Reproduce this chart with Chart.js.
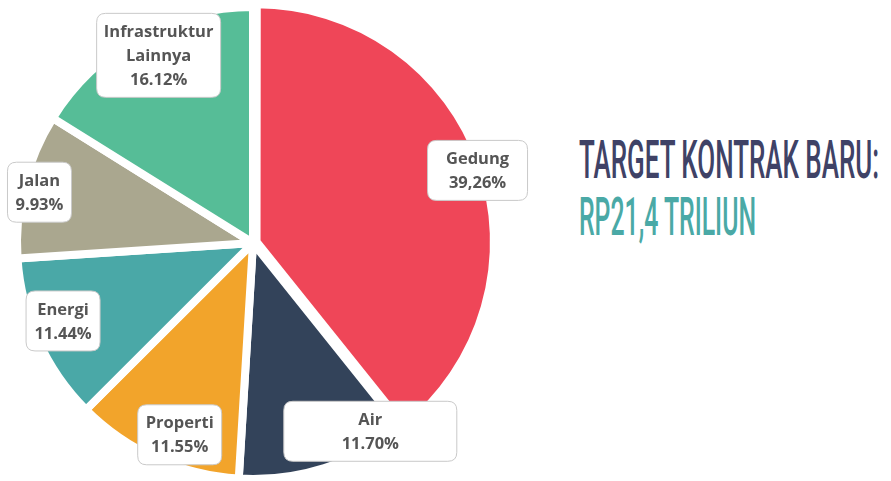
<!DOCTYPE html>
<html>
<head>
<meta charset="utf-8">
<script src="https://cdn.jsdelivr.net/npm/chart.js@4.4.1/dist/chart.umd.min.js"></script>
<style>
  html, body { margin: 0; padding: 0; background: #fff; }
  body { width: 891px; height: 481px; position: relative; overflow: hidden; }
  #pieWrap { position: absolute; left: 0; top: 0; width: 560px; height: 481px; }
  .title { position: absolute; left: 579px; white-space: nowrap; font-family: Roboto, sans-serif;
           font-weight: 500; font-size: 54px; line-height: 1; transform-origin: 0 0; }
  #t1 { top: 133px; color: #3f4266; }
  #t2 { top: 190px; color: #4aa9a6; }
</style>
</head>
<body>
<div id="pieWrap"><canvas id="pieChart"></canvas></div>
<div class="title" id="t1">TARGET KONTRAK BARU:</div>
<div class="title" id="t2">RP21,4 TRILIUN</div>
<script>
// data
const categories = ['Gedung', 'Air', 'Properti', 'Energi', 'Jalan', 'Infrastruktur Lainnya'];
const shares = [39.26, 11.70, 11.55, 11.44, 9.93, 16.12];
const shareLabels = ['39,26%', '11.70%', '11.55%', '11.44%', '9.93%', '16.12%'];
const sliceColors = ['#ef4658', '#33435a', '#f2a42b', '#4aa8a7', '#aaa78f', '#56bd97'];

// label box placement: fraction along slice, fraction of radius, min box width
const labelPlace = [
    { frac: 0.51, rad: 1.00, minW: 100 },
    { frac: 0.16, rad: 0.94, minW: 173 },
    { frac: 0.42, rad: 0.87, minW: 84 },
    { frac: 0.55, rad: 0.87, minW: 74 },
    { frac: 0.48, rad: 0.93, minW: 64 },
    { frac: 0.54, rad: 0.89, minW: 124 }
];

function labelLines(i) {
    const name = categories[i];
    const parts = name === 'Infrastruktur Lainnya' ? ['Infrastruktur', 'Lainnya'] : [name];
    return parts.concat([shareLabels[i]]);
}

function roundRect(ctx, x, y, w, h, r) {
    ctx.beginPath();
    ctx.moveTo(x + r, y);
    ctx.lineTo(x + w - r, y);
    ctx.quadraticCurveTo(x + w, y, x + w, y + r);
    ctx.lineTo(x + w, y + h - r);
    ctx.quadraticCurveTo(x + w, y + h, x + w - r, y + h);
    ctx.lineTo(x + r, y + h);
    ctx.quadraticCurveTo(x, y + h, x, y + h - r);
    ctx.lineTo(x, y + r);
    ctx.quadraticCurveTo(x, y, x + r, y);
    ctx.closePath();
}

const boxLabels = {
    id: 'boxLabels',
    afterDatasetsDraw(chart) {
        const ctx = chart.ctx;
        const meta = chart.getDatasetMeta(0);
        const lineH = 24;
        ctx.save();
        ctx.font = 'bold 16.5px "Open Sans", sans-serif';
        ctx.textAlign = 'center';
        ctx.textBaseline = 'middle';
        meta.data.forEach((arc, i) => {
            const p = arc.getProps(['x', 'y', 'startAngle', 'endAngle', 'outerRadius'], true);
            const place = labelPlace[i];
            const a = p.startAngle + place.frac * (p.endAngle - p.startAngle);
            const r = place.rad * p.outerRadius;
            const cx = p.x + Math.cos(a) * r;
            const cy = p.y + Math.sin(a) * r;
            const lines = labelLines(i);
            let w = place.minW;
            lines.forEach(l => { w = Math.max(w, ctx.measureText(l).width + 14); });
            const h = lines.length * lineH + 12;
            roundRect(ctx, cx - w / 2, cy - h / 2, w, h, 9);
            ctx.fillStyle = '#ffffff';
            ctx.fill();
            ctx.strokeStyle = '#c9c9c9';
            ctx.lineWidth = 1;
            ctx.stroke();
            ctx.fillStyle = '#555555';
            lines.forEach((l, k) => {
                ctx.fillText(l, cx, cy - h / 2 + 6 + lineH * k + lineH / 2 + 1);
            });
        });
        ctx.restore();
    }
};

const pieCtx = document.getElementById('pieChart');
new Chart(pieCtx.getContext('2d'), {
    type: 'pie',
    data: {
        labels: categories,
        datasets: [{
            data: shares,
            backgroundColor: sliceColors,
            borderColor: '#ffffff',
            borderWidth: 8,
            offset: [15, 0, 0, 0, 0, 0]
        }]
    },
    options: {
        responsive: true,
        maintainAspectRatio: false,
        animation: false,
        radius: 236,
        layout: { padding: { top: 5, right: 54 } },
        plugins: {
            legend: { display: false },
            tooltip: { enabled: false }
        }
    },
    plugins: [boxLabels]
});

// squeeze the headline to its condensed width
function fitTitle(id, targetW) {
    const el = document.getElementById(id);
    const w = el.getBoundingClientRect().width;
    el.style.transform = 'scaleX(' + (targetW / w) + ')';
}
fitTitle('t1', 300);
fitTitle('t2', 177);
</script>
</body>
</html>
